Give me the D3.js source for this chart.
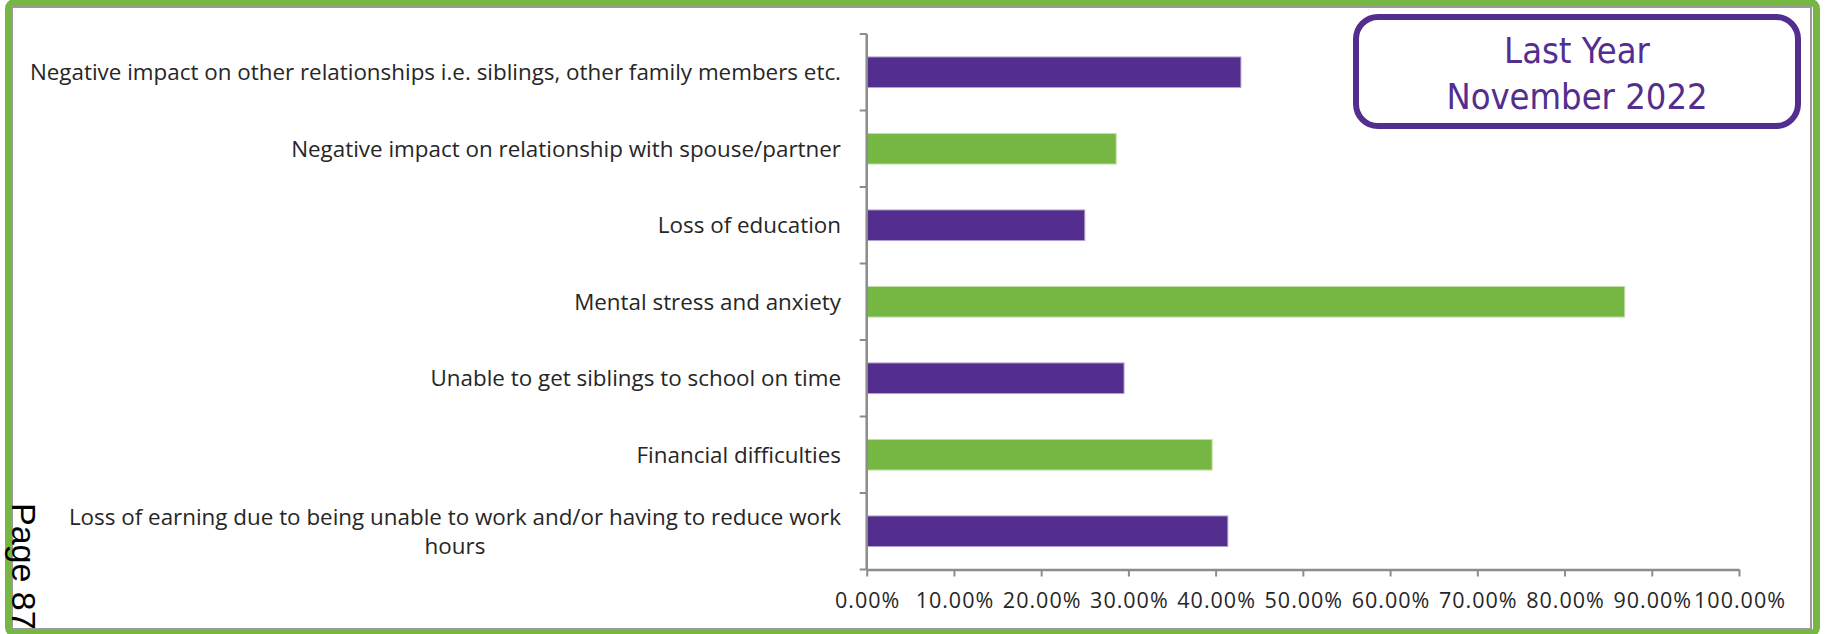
<!DOCTYPE html>
<html>
<head>
<meta charset="utf-8">
<script src="https://cdn.jsdelivr.net/npm/d3@7"></script>
<style>
  html, body { margin: 0; padding: 0; background: #fff; }
  svg { display: block; }
</style>
</head>
<body>
<svg id="chart" width="1826" height="634"></svg>
<script>
// Impacts reported by respondents (share of responses)
const categories = [
  "Negative impact on other relationships i.e. siblings, other family members etc.",
  "Negative impact on relationship with spouse/partner",
  "Loss of education",
  "Mental stress and anxiety",
  "Unable to get siblings to school on time",
  "Financial difficulties",
  "Loss of earning due to being unable to work and/or having to reduce work hours"
];
// Label lines (the last category wraps onto two lines)
const labelLines = [
  ["Negative impact on other relationships i.e. siblings, other family members etc."],
  ["Negative impact on relationship with spouse/partner"],
  ["Loss of education"],
  ["Mental stress and anxiety"],
  ["Unable to get siblings to school on time"],
  ["Financial difficulties"],
  ["Loss of earning due to being unable to work and/or having to reduce work", "hours"]
];
const values = [0.429, 0.286, 0.250, 0.869, 0.295, 0.396, 0.414];
const barColors = ["#532E8E", "#76B743"];
const tickValues = [0, 0.1, 0.2, 0.3, 0.4, 0.5, 0.6, 0.7, 0.8, 0.9, 1.0];
const tickLabels = ["0.00%", "10.00%", "20.00%", "30.00%", "40.00%", "50.00%",
                    "60.00%", "70.00%", "80.00%", "90.00%", "100.00%"];
const titleLines = ["Last Year", "November 2022"];
const pageLabel = "Page 87";

const svg = d3.select("#chart");

// Frame: outer green rounded border with a thin grey inner rule
svg.append("rect")
  .attr("x", 8.5).attr("y", 2.5).attr("width", 1808).attr("height", 631)
  .attr("rx", 6)
  .attr("fill", "#fff").attr("stroke", "#76B743").attr("stroke-width", 7);
svg.append("rect")
  .attr("x", 12).attr("y", 7).attr("width", 1799).attr("height", 622)
  .attr("fill", "none").attr("stroke", "#9a9a9a").attr("stroke-width", 2);

// Scales
const x = d3.scaleLinear().domain([0, 1]).range([866.7, 1739]);
const y = d3.scaleBand().domain(categories).range([34, 569.5])
  .paddingInner(0.6).paddingOuter(0.3);
const step = y.step();
const slotTop = i => 34 + i * step;

const axisColor = "#8c8c8c";
const labelFont = "'Open Sans', 'Liberation Sans', Arial, sans-serif";
const textColor = "#262626";

// Bars
svg.append("g").selectAll("rect")
  .data(values)
  .join("rect")
  .attr("x", x(0))
  .attr("y", (d, i) => y(categories[i]))
  .attr("width", d => x(d) - x(0))
  .attr("height", y.bandwidth())
  .attr("fill", (d, i) => barColors[i % 2])
  .attr("stroke", (d, i) => d3.interpolateRgb(barColors[i % 2], "#fff")(0.55))
  .attr("stroke-width", 1);

// X axis
const xAxis = d3.axisBottom(x)
  .tickValues(tickValues)
  .tickFormat((d, i) => tickLabels[i])
  .tickSize(7)
  .tickSizeOuter(0);
const gx = svg.append("g")
  .attr("transform", `translate(0,${569.5})`)
  .call(xAxis);
gx.select(".domain").attr("stroke", axisColor).attr("stroke-width", 2.5);
gx.selectAll(".tick line").attr("stroke", axisColor).attr("stroke-width", 2);
gx.selectAll(".tick text")
  .attr("y", 38)
  .attr("dy", 0)
  .attr("dx", 0.5)
  .attr("fill", textColor)
  .style("font-family", labelFont)
  .style("font-size", "21.5px")
  .style("letter-spacing", "1px");

// Y axis: vertical rule with ticks at category boundaries
const gy = svg.append("g");
gy.append("line")
  .attr("x1", x(0)).attr("x2", x(0))
  .attr("y1", slotTop(0)).attr("y2", slotTop(categories.length))
  .attr("stroke", axisColor).attr("stroke-width", 2.5);
gy.selectAll("line.tick")
  .data(d3.range(categories.length + 1))
  .join("line")
  .attr("class", "tick")
  .attr("x1", x(0) - 7).attr("x2", x(0))
  .attr("y1", i => slotTop(i)).attr("y2", i => slotTop(i))
  .attr("stroke", axisColor).attr("stroke-width", 2);

// Category labels, right-aligned; wrapped lines centred within the block
const labelRight = 841;
const lineGap = 29;
labelLines.forEach((lines, i) => {
  const cy = y(categories[i]) + y.bandwidth() / 2;
  const t = svg.append("text")
    .attr("fill", textColor)
    .style("font-family", labelFont)
    .style("font-size", "22.4px");
  const n = lines.length;
  const spans = lines.map((ln, k) => t.append("tspan")
    .attr("y", cy + (k - (n - 1) / 2) * lineGap)
    .attr("dy", "0.35em")
    .text(ln));
  if (n === 1) {
    t.attr("text-anchor", "end");
    spans[0].attr("x", labelRight);
  } else {
    // centre each line on the widest line, whose right edge sits at labelRight
    const widths = spans.map(s => s.node().getComputedTextLength());
    const maxW = d3.max(widths);
    const cx = labelRight - maxW / 2;
    t.attr("text-anchor", "middle");
    spans.forEach(s => s.attr("x", cx));
  }
});

// Title box
const box = svg.append("g");
box.append("rect")
  .attr("x", 1356).attr("y", 17).attr("width", 442).attr("height", 109)
  .attr("rx", 22)
  .attr("fill", "#fff").attr("stroke", "#532E8E").attr("stroke-width", 6);
box.selectAll("text")
  .data(titleLines)
  .join("text")
  .attr("x", 1577)
  .attr("y", (d, i) => 63 + i * 46)
  .attr("text-anchor", "middle")
  .attr("fill", "#532E8E")
  .style("font-family", "'DejaVu Sans Condensed', 'Liberation Sans', sans-serif")
  .style("font-size", "36px")
  .text(d => d);

// Page number, rotated along the left edge
svg.append("text")
  .attr("transform", "translate(12,503) rotate(90)")
  .attr("fill", "#000")
  .style("font-family", "'Liberation Sans', Arial, sans-serif")
  .style("font-size", "34px")
  .text(pageLabel);
</script>
</body>
</html>
